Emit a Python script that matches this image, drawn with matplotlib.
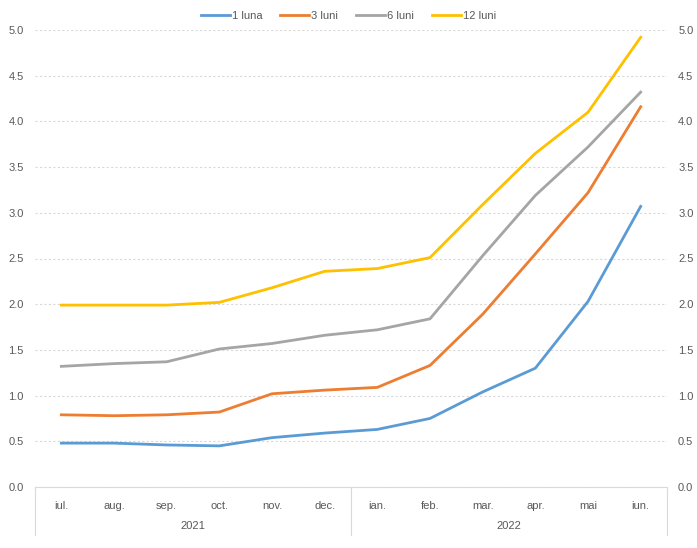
import matplotlib.pyplot as plt
import numpy as np

plt.rcParams['font.family'] = ['Liberation Sans', 'DejaVu Sans']

months = ['iul.', 'aug.', 'sep.', 'oct.', 'nov.', 'dec.',
          'ian.', 'feb.', 'mar.', 'apr.', 'mai', 'iun.']
years = ['2021', '2022']

luna1 = [0.48, 0.48, 0.46, 0.45, 0.54, 0.59, 0.63, 0.75, 1.04, 1.30, 2.03, 3.07]
luni3 = [0.79, 0.78, 0.79, 0.82, 1.02, 1.06, 1.09, 1.33, 1.89, 2.55, 3.22, 4.16]
luni6 = [1.32, 1.35, 1.37, 1.51, 1.57, 1.66, 1.72, 1.84, 2.53, 3.19, 3.72, 4.32]
luni12 = [1.99, 1.99, 1.99, 2.02, 2.18, 2.36, 2.39, 2.51, 3.09, 3.65, 4.10, 4.92]

series = [('1 luna', luna1, '#5B9BD5'),
          ('3 luni', luni3, '#ED7D31'),
          ('6 luni', luni6, '#A5A5A5'),
          ('12 luni', luni12, '#FFC000')]

txt = '#595959'
fig = plt.figure(figsize=(6.97, 5.48), dpi=100)
ax = fig.add_axes([35 / 697, 1 - 487 / 548, (667 - 35) / 697, (487 - 30) / 548])
x = np.arange(len(months))

for name, vals, col in series:
    ax.plot(x, vals, color=col, lw=2, label=name)

ax.set_xlim(-0.5, len(months) - 0.5)
ax.set_ylim(0, 5)
yt = np.arange(0, 5.01, 0.5)
ax.set_yticks(yt)
ax.set_yticklabels([f'{v:.1f}' for v in yt])
ax.grid(axis='y', color='#D9D9D9', ls=(0, (2, 2)), lw=0.8)
ax.set_axisbelow(True)
for s in ['left', 'right', 'top']:
    ax.spines[s].set_visible(False)
ax.spines['bottom'].set_color('#D9D9D9')
ax.tick_params(axis='y', length=0, pad=8, labelsize=8, labelcolor=txt)
ax.set_xticks(x)
ax.set_xticklabels(months)
ax.tick_params(axis='x', length=0, pad=10, labelsize=8, labelcolor=txt)

ax2 = ax.twinx()
ax2.set_ylim(0, 5)
ax2.set_yticks(yt)
ax2.set_yticklabels([f'{v:.1f}' for v in yt])
ax2.tick_params(axis='y', length=0, pad=8, labelsize=8, labelcolor=txt)
for s in ax2.spines.values():
    s.set_visible(False)

# category group separators and year labels
tr = ax.get_xaxis_transform()
for xs in [-0.5, 5.5, 11.5]:
    ax.plot([xs, xs], [0, -0.105], transform=tr, color='#D9D9D9', lw=0.8, clip_on=False)
for i, yr in enumerate(years):
    ax.text(2.5 + 6 * i, -0.085, yr, transform=tr, ha='center', va='center',
            fontsize=8, color=txt)

fig.legend(loc='center', bbox_to_anchor=(0.5, 1 - 16 / 548), ncol=4, frameon=False,
           fontsize=8, labelcolor=txt, handlelength=2.6, handletextpad=0.2,
           columnspacing=1.6)

plt.savefig('out.png', dpi=100)
